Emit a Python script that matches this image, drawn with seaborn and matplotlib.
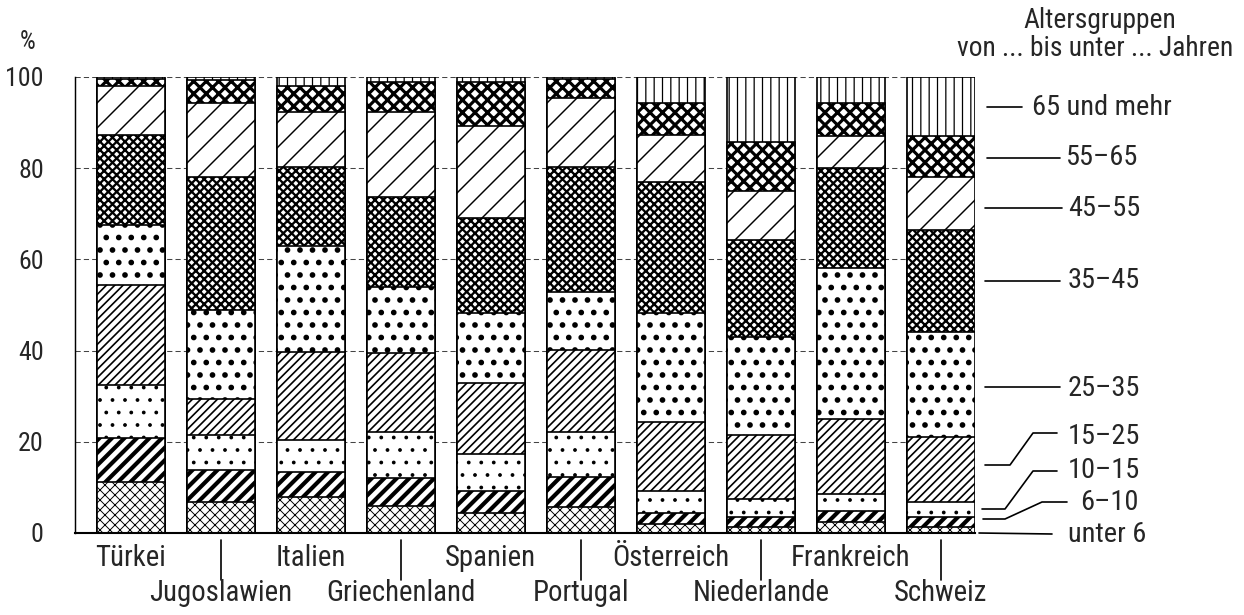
import os
import numpy as np
import seaborn as sns
import matplotlib.pyplot as plt
from matplotlib import font_manager
from matplotlib.transforms import blended_transform_factory

countries = ["Türkei", "Jugoslawien", "Italien", "Griechenland", "Spanien",
             "Portugal", "Österreich", "Niederlande", "Frankreich", "Schweiz"]
age_groups = ["unter 6", "6–10", "10–15", "15–25", "25–35",
              "35–45", "45–55", "55–65", "65 und mehr"]

# share of each age group in % (bottom to top)
unter_6 = [11.2, 6.8, 7.9, 5.9, 4.4, 5.7, 2.0, 1.3, 2.4, 1.3]
j6_10 = [9.6, 7.0, 5.5, 6.2, 4.8, 6.6, 2.4, 2.2, 2.4, 2.2]
j10_15 = [11.7, 7.7, 7.0, 10.0, 8.1, 9.8, 4.8, 4.0, 3.8, 3.3]
j15_25 = [21.9, 7.9, 19.3, 17.4, 15.6, 18.0, 15.1, 14.0, 16.4, 14.3]
j25_35 = [13.1, 19.5, 23.2, 14.4, 15.3, 12.8, 23.9, 21.5, 33.1, 23.0]
j35_45 = [19.8, 29.2, 17.4, 19.8, 20.9, 27.4, 28.8, 21.3, 21.9, 22.3]
j45_55 = [10.7, 16.2, 12.0, 18.6, 20.2, 15.1, 10.3, 10.7, 7.1, 11.7]
j55_65 = [1.5, 5.0, 5.7, 6.5, 9.5, 4.2, 7.0, 10.7, 7.2, 9.0]
j65_plus = [0.5, 0.7, 2.0, 1.2, 1.2, 0.4, 5.7, 14.3, 5.7, 12.9]

groups = [unter_6, j6_10, j10_15, j15_25, j25_35, j35_45, j45_55, j55_65, j65_plus]
hatches = ['xxxxx', '////', '..', '//////', '..', 'xxxxxx', '//', 'xxxx', '|||']
hatch_lw = [0.45, 2.0, 0.6, 0.8, 1.5, 1.1, 0.7, 1.5, 0.6]

# look for a narrow sans face, the original lettering is condensed
narrow = None
prefs = ['liberationsansnarrow', 'robotocondensed', 'dejavusanscondensed', 'opensans_condensed',
         'opensanscondensed', 'notosanscondensed']
skip = ['bold', 'italic', 'oblique', 'light', 'thin', 'medium', 'black', 'semi', 'extra', 'mono', 'serif']
for pref in prefs:
    for f in font_manager.fontManager.ttflist:
        base = os.path.basename(f.fname).lower().replace('-', '')
        if base.startswith(pref) and not any(s in base for s in skip):
            narrow = f
            break
    if narrow is not None:
        break

sns.set_style("white")
if narrow is not None:
    plt.rcParams['font.family'] = [narrow.name, 'DejaVu Sans']
    plt.rcParams['font.stretch'] = narrow.stretch
    sc = 1.0
else:
    plt.rcParams['font.family'] = ['DejaVu Sans']
    sc = 0.76
plt.rcParams['hatch.color'] = 'black'

W, H = 1244, 615
fig = plt.figure(figsize=(W / 150, H / 150), dpi=150)
ax = fig.add_axes([75 / W, 82 / H, 900 / W, 456 / H])

cum = np.cumsum(np.array(groups), axis=0)

# overlay cumulative bars from the top group down
for k in range(len(groups) - 1, -1, -1):
    n0 = len(ax.patches)
    with plt.rc_context({'hatch.linewidth': hatch_lw[k]}):
        sns.barplot(x=countries, y=cum[k], order=countries, color='white',
                    saturation=1, edgecolor='black', linewidth=0.8,
                    hatch=hatches[k], width=0.75, errorbar=None, ax=ax)
    for p in ax.patches[n0:]:
        if hasattr(p, 'set_hatch_linewidth'):
            p.set_hatch_linewidth(hatch_lw[k])

ax.set_xlim(-0.62, 9.38)
ax.set_ylim(0, 100)
ax.set_xlabel('')
ax.set_ylabel('')
ax.set_xticks([])
ax.set_yticks([0, 20, 40, 60, 80, 100])
ax.tick_params(axis='y', length=0, pad=15 if sc == 1 else 9, labelsize=12.5 * sc)
ax.yaxis.grid(True, linestyle=(0, (5, 3)), linewidth=0.5, color='#444444')
ax.set_axisbelow(True)
sns.despine(ax=ax, top=True, right=True)
ax.spines['bottom'].set_linewidth(1.0)
ax.spines['left'].set_linewidth(0.7)
ax.spines['bottom'].set_color('black')
ax.spines['left'].set_color('black')

trans = blended_transform_factory(ax.transData, ax.transAxes)
for i, name in enumerate(countries):
    if i % 2 == 0:
        ax.text(i, -0.055, name, transform=trans, ha='center', va='center', fontsize=13.8 * sc)
    else:
        ax.text(i, -0.132, name, transform=trans, ha='center', va='center', fontsize=13.8 * sc)
        ax.plot([i, i], [-0.015, -0.103], transform=trans, color='black',
                lw=0.8, clip_on=False)

fig.text(28 / W, 1 - 42 / H, '%', ha='center', va='center', fontsize=12 * sc)


def px(x, y):
    return x / W, 1 - y / H


# legend on the right with leader lines
legend_pos = {
    "65 und mehr": ((1032, 108), [(987, 107), (1022, 107)]),
    "55–65": ((1066, 158), [(987, 158), (1060, 158)]),
    "45–55": ((1068, 209), [(985, 208), (1062, 208)]),
    "35–45": ((1068, 281), [(985, 281), (1060, 281)]),
    "25–35": ((1068, 389), [(985, 387), (1060, 387)]),
    "15–25": ((1068, 436), [(985, 465), (1010, 465), (1033, 433), (1057, 433)]),
    "10–15": ((1068, 471), [(982, 509), (1005, 509), (1033, 471), (1057, 471)]),
    "6–10": ((1080, 503), [(983, 519), (1005, 519), (1042, 502), (1067, 502)]),
    "unter 6": ((1068, 535), [(979, 533), (1052, 534)]),
}
for label in age_groups[::-1]:
    (tx, ty), pts = legend_pos[label]
    xs = [px(*p)[0] for p in pts]
    ys = [px(*p)[1] for p in pts]
    fig.add_artist(plt.Line2D(xs, ys, color='black', lw=0.8, transform=fig.transFigure))
    fig.text(*px(tx, ty), label, ha='left', va='center', fontsize=13.6 * sc)

fig.text(*px(1100, 21), 'Altersgruppen', ha='center', va='center', fontsize=13.2 * sc)
fig.text(*px(1095, 49), 'von ... bis unter ... Jahren', ha='center', va='center', fontsize=13.2 * sc)

fig.savefig('out.png', dpi=150)
